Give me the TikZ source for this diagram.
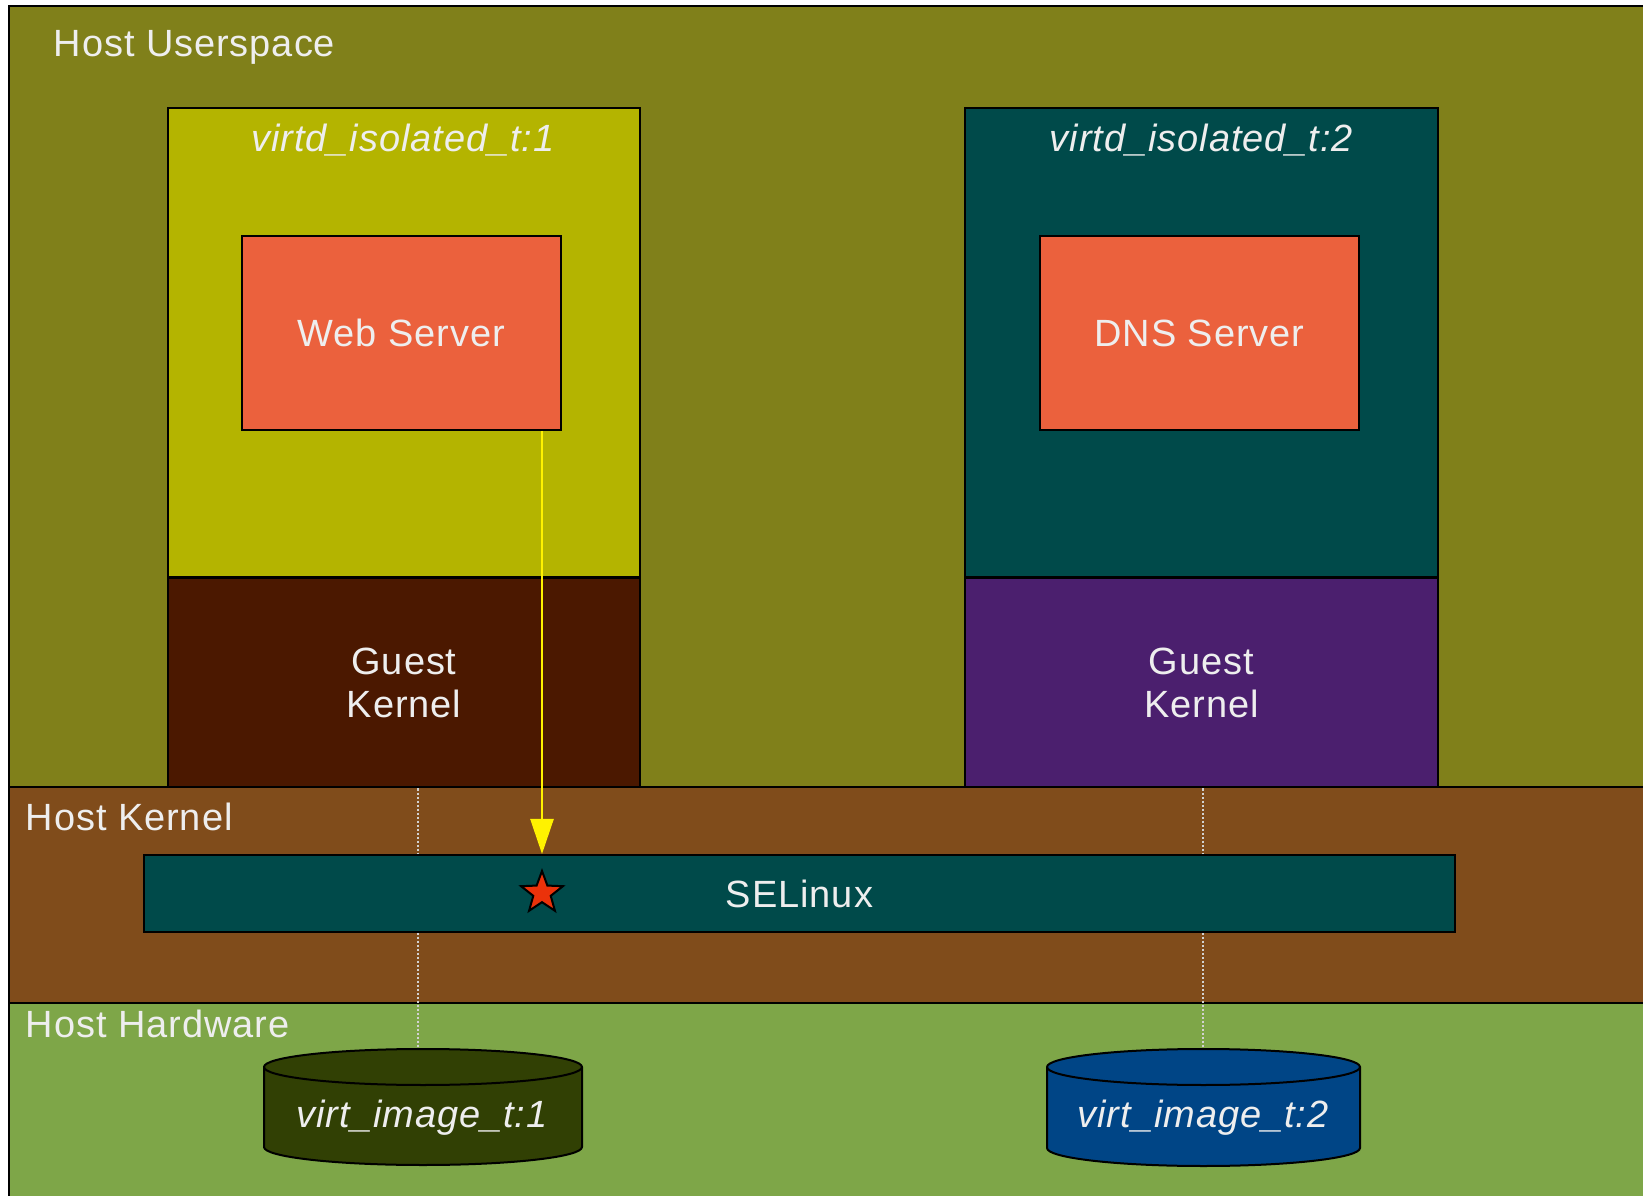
\documentclass[tikz,border=0pt]{standalone}
\usepackage{fontspec}
\setmainfont[LetterSpace=2.5]{Liberation Sans}
\usepackage{tikz}
\usetikzlibrary{arrows.meta,shapes.geometric,backgrounds}
\definecolor{userspace}{RGB}{128,128,26}
\definecolor{hostkernel}{RGB}{128,76,27}
\definecolor{hardware}{RGB}{126,166,72}
\definecolor{isoone}{RGB}{180,180,0}
\definecolor{isotwo}{RGB}{0,74,74}
\definecolor{guestone}{RGB}{75,24,0}
\definecolor{guesttwo}{RGB}{75,31,110}
\definecolor{server}{RGB}{235,97,61}
\definecolor{imageone}{RGB}{49,64,4}
\definecolor{imagetwo}{RGB}{0,69,134}
\definecolor{startcolor}{RGB}{235,50,10}
\definecolor{labeltext}{RGB}{238,238,238}
\newcommand{\bordercolor}{black}
\newcommand{\thickness}{0.02cm}
\newcommand{\ry}{0.18}

\begin{document}
\begin{tikzpicture}[
  every node/.style={font=\fontsize{10.8pt}{12pt}\selectfont, text=labeltext},
  block/.style={draw=\bordercolor, line width=\thickness, inner sep=0pt},
  lbl/.style={inner sep=0pt},
  ilbl/.style={inner sep=0pt, font=\fontsize{10.8pt}{12pt}\selectfont\itshape},
  link/.style={draw={rgb,255:red,210;green,210;blue,210}, line width=0.015cm, dash pattern=on 0.02cm off 0.02cm},
  flow/.style={draw=yellow, line width=0.025cm, -{Triangle[width=0.23cm,length=0.35cm]}}
]
\clip (0,0) rectangle (16.43,-11.96);
\fill[white] (0,0) rectangle (16.43,-11.96);
%host layers
\draw[\bordercolor, line width=\thickness, fill=userspace] (0.09,-0.06) rectangle (16.7,-7.87);
\draw[\bordercolor, line width=\thickness, fill=hostkernel] (0.09,-7.87) rectangle (16.7,-10.03);
\draw[\bordercolor, line width=\thickness, fill=hardware] (0.09,-10.03) rectangle (16.7,-12.2);
\node[lbl] (userlbl) at (0.53,-0.57) [anchor=base west] {Host Userspace};
\node[lbl] (kernlbl) at (0.25,-8.30) [anchor=base west] {Host Kernel};
\node[lbl] (hwlbl) at (0.25,-10.37) [anchor=base west] {Host Hardware};
%guest 1
\node[block, fill=isoone] (vm1) at (4.04,-3.425) [minimum width=4.72cm, minimum height=4.69cm] {};
\node[block, fill=guestone, align=center] (gk1) at (4.04,-6.83) [minimum width=4.72cm, minimum height=2.09cm] {Guest\\Kernel};
\node[ilbl] (vm1lbl) at (4.03,-1.52) [anchor=base] {virtd\_isolated\_t:1};
\node[block, fill=server] (web) at (4.015,-3.33) [minimum width=3.19cm, minimum height=1.94cm] {Web Server};
%guest 2
\node[block, fill=isotwo] (vm2) at (12.015,-3.425) [minimum width=4.73cm, minimum height=4.69cm] {};
\node[block, fill=guesttwo, align=center] (gk2) at (12.015,-6.83) [minimum width=4.73cm, minimum height=2.09cm] {Guest\\Kernel};
\node[ilbl] (vm2lbl) at (12.015,-1.52) [anchor=base] {virtd\_isolated\_t:2};
\node[block, fill=server] (dns) at (11.995,-3.33) [minimum width=3.19cm, minimum height=1.94cm] {DNS Server};
%images
\coordinate (img1) at (4.18,-10.49);
\coordinate (img2) at (12.03,-10.49);
\draw[link] (gk1.south -| img1) -- (img1);
\draw[link] (gk2.south -| img2) -- (img2);
\draw[\bordercolor, line width=\thickness, fill=imageone] (2.64,-10.67) -- (2.64,-11.47) arc[start angle=180, end angle=360, x radius=1.59, y radius=\ry] -- (5.82,-10.67) arc[start angle=0, end angle=180, x radius=1.59, y radius=\ry] -- cycle;
\draw[\bordercolor, line width=\thickness] (2.64,-10.67) arc[start angle=180, end angle=360, x radius=1.59, y radius=\ry];
\draw[\bordercolor, line width=\thickness, fill=imagetwo] (10.47,-10.67) -- (10.47,-11.48) arc[start angle=180, end angle=360, x radius=1.565, y radius=\ry] -- (13.60,-10.67) arc[start angle=0, end angle=180, x radius=1.565, y radius=\ry] -- cycle;
\draw[\bordercolor, line width=\thickness] (10.47,-10.67) arc[start angle=180, end angle=360, x radius=1.565, y radius=\ry];
\node[ilbl] (disk1) at (4.22,-11.18) {virt\_image\_t:1};
\node[ilbl] (disk2) at (12.03,-11.18) {virt\_image\_t:2};
%selinux
\node[block, fill=isotwo] (selinux) at (7.995,-8.935) [minimum width=13.11cm, minimum height=0.77cm] {SELinux};
\node[star, star points=5, star point ratio=2.4, draw=\bordercolor, line width=\thickness, fill=startcolor, inner sep=0pt, minimum size=0.44cm] (hit) at (5.42,-8.93) {};
\draw[flow] (web.south -| hit) -- (selinux.north -| hit);
\end{tikzpicture}
\end{document}
